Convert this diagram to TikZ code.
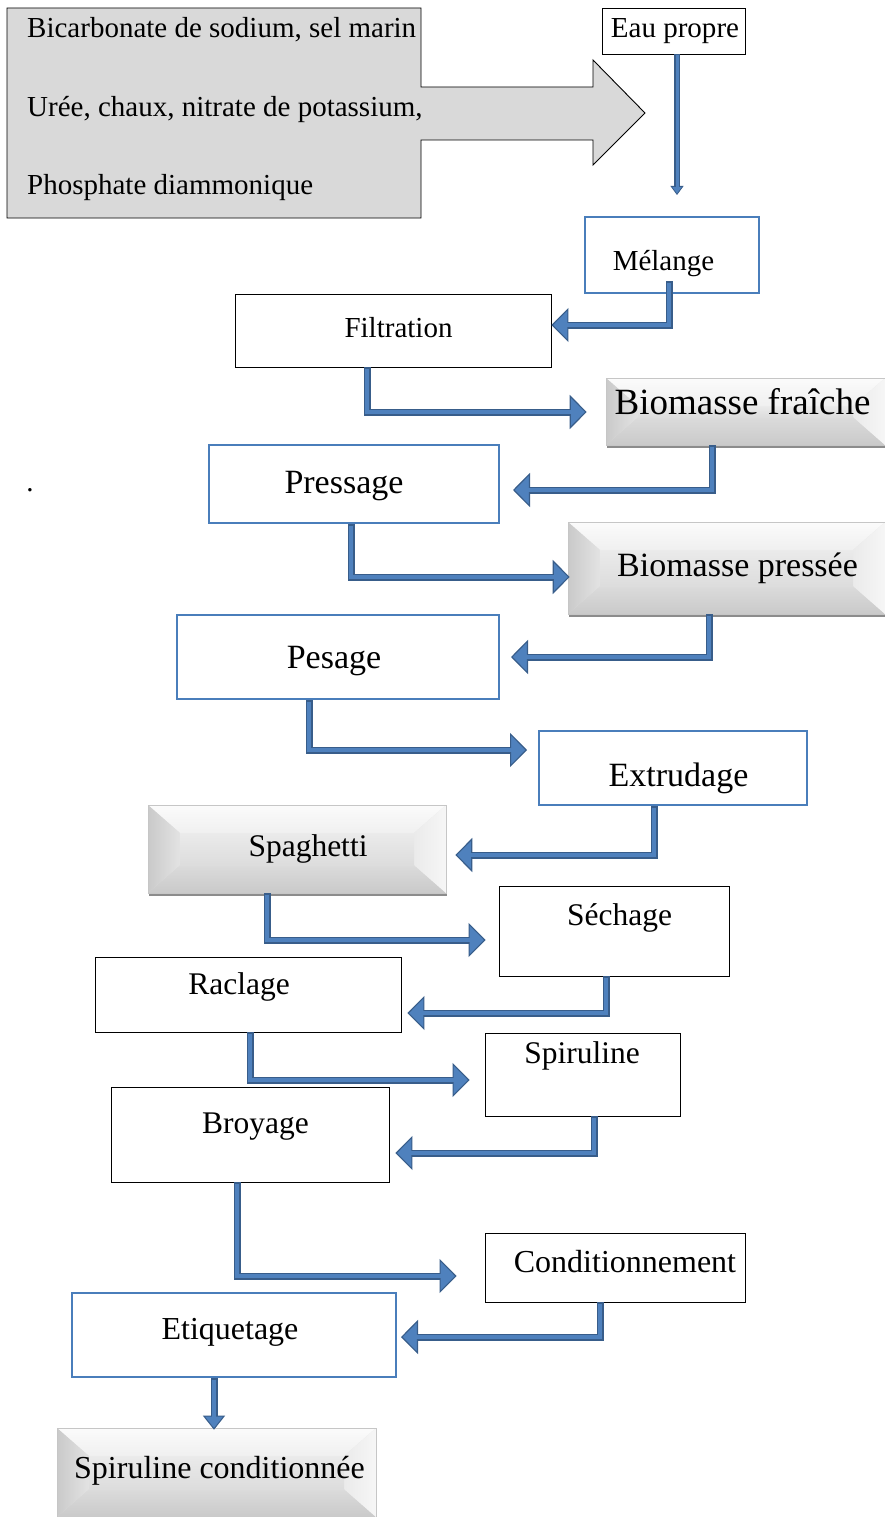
\documentclass[tikz,border=0pt]{standalone}
\usepackage{fontspec}
\setmainfont{Liberation Serif}
\usetikzlibrary{arrows.meta,calc,shadows}
\definecolor{arrlight}{HTML}{4F81BD}
\definecolor{arrdark}{HTML}{385D8A}
\definecolor{boxblue}{HTML}{4A7EBB}
\definecolor{ingr}{HTML}{D9D9D9}
\newcommand\fs[1]{\fontsize{#1}{#1}\selectfont}
\tikzset{
  blackbox/.style={rectangle, draw=black, line width=0.9pt, fill=white, inner sep=0pt},
  bluebox/.style={rectangle, draw=boxblue, line width=2pt, fill=white, inner sep=0pt},
  bevelbox/.style={rectangle, inner sep=0pt, fill=gray!22, draw=gray!45, line width=0.6pt,
    drop shadow={shadow xshift=1pt, shadow yshift=-3pt, opacity=0.45, fill=black},
    path picture={
      \coordinate (NW) at (path picture bounding box.north west);
      \coordinate (NE) at (path picture bounding box.north east);
      \coordinate (SE) at (path picture bounding box.south east);
      \coordinate (SW) at (path picture bounding box.south west);
      \coordinate (nw) at ($(NW)+(32,28)$);
      \coordinate (ne) at ($(NE)+(-32,28)$);
      \coordinate (se) at ($(SE)+(-32,-28)$);
      \coordinate (sw) at ($(SW)+(32,-28)$);
      \shade[top color=gray!3, bottom color=gray!12] (NW) -- (NE) -- (ne) -- (nw) -- cycle;
      \shade[top color=gray!28, bottom color=gray!42] (SW) -- (SE) -- (se) -- (sw) -- cycle;
      \shade[left color=gray!42, right color=gray!22] (NW) -- (nw) -- (sw) -- (SW) -- cycle;
      \shade[left color=gray!16, right color=gray!7] (NE) -- (ne) -- (se) -- (SE) -- cycle;
      \shade[top color=gray!16, bottom color=gray!27] (nw) -- (ne) -- (se) -- (sw) -- cycle;
      \draw[white, line width=1.2pt] (SW) -- (NW) -- (NE);
    }},
  lbl/.style={inner sep=0pt, anchor=base},
  arrout/.style={draw=arrdark, line width=7pt, line join=miter,
    -{Triangle[length=17pt,width=34pt,line width=1.1pt,fill=arrlight]}},
  arrin/.style={draw=arrlight, line width=4pt, line join=miter, shorten >=15pt, shorten <=1.5pt},
}
\newcommand\flowconn[2]{\draw[arrout] #1 |- #2; \draw[arrin] #1 |- #2;}
\begin{document}
\begin{tikzpicture}[x=1pt,y=-1pt]
\useasboundingbox[fill=white] (0,0) rectangle (885,1517);

% ingredients block arrow
\draw[fill=ingr, draw=black, line width=0.9pt, line join=miter]
  (7,8) -- (421,8) -- (421,87) -- (593,87) -- (593,60) -- (645,113) -- (593,165)
  -- (593,140) -- (421,140) -- (421,218) -- (7,218) -- cycle;
\node[lbl, anchor=base west] (ing1) at (27,38) {\fs{29}Bicarbonate de sodium, sel marin};
\node[lbl, anchor=base west] (ing2) at (27,117) {\fs{29}Urée, chaux, nitrate de potassium,};
\node[lbl, anchor=base west] (ing3) at (27,194) {\fs{29}Phosphate diammonique};

% boxes
\node[blackbox, minimum width=143pt, minimum height=46pt] (eau) at (673.5,31) {};
\node[bluebox, minimum width=174pt, minimum height=76pt] (mel) at (672,255) {};
\node[blackbox, minimum width=316pt, minimum height=73pt] (fil) at (393,330.5) {};
\node[bevelbox, minimum width=279pt, minimum height=67pt] (bf) at (745.5,411.5) {};
\node[bluebox, minimum width=290pt, minimum height=78pt] (pre) at (354,484) {};
\node[bevelbox, minimum width=317pt, minimum height=92pt] (bp) at (726.5,568) {};
\node[bluebox, minimum width=322pt, minimum height=84pt] (pes) at (338,657) {};
\node[bluebox, minimum width=268pt, minimum height=74pt] (ext) at (673,768) {};
\node[bevelbox, minimum width=298pt, minimum height=88pt] (spa) at (297,849) {};
\node[blackbox, minimum width=230pt, minimum height=90pt] (sec) at (614,931) {};
\node[blackbox, minimum width=306pt, minimum height=75pt] (rac) at (248,994.5) {};
\node[blackbox, minimum width=195pt, minimum height=83pt] (spi) at (582.5,1074.5) {};
\node[blackbox, minimum width=278pt, minimum height=95pt] (bro) at (250,1134.5) {};
\node[blackbox, minimum width=260pt, minimum height=69pt] (cond) at (615,1267.5) {};
\node[bluebox, minimum width=324pt, minimum height=84pt] (eti) at (234,1335) {};
\node[bevelbox, minimum width=319pt, minimum height=89pt] (sc) at (216.5,1472.5) {};

% labels
\node[lbl] (teau) at (675,38) {\fs{29}Eau propre};
\node[lbl] (tmel) at (663.5,270) {\fs{29}Mélange};
\node[lbl] (tfil) at (398.5,337) {\fs{29}Filtration};
\node[lbl] (tbf) at (742.5,414) {\fs{37}Biomasse fraîche};
\node[lbl] (tpre) at (344,493) {\fs{34}Pressage};
\node[lbl] (tbp) at (737.5,576) {\fs{34}Biomasse pressée};
\node[lbl] (tpes) at (334,668) {\fs{34}Pesage};
\node[lbl] (text) at (678.5,786) {\fs{34}Extrudage};
\node[lbl] (tspa) at (308,856) {\fs{31.5}Spaghetti};
\node[lbl] (tsec) at (619.5,925) {\fs{31.5}Séchage};
\node[lbl] (trac) at (239,994) {\fs{31.5}Raclage};
\node[lbl] (tspi) at (582,1063) {\fs{31.5}Spiruline};
\node[lbl] (tbro) at (255.5,1133) {\fs{31.5}Broyage};
\node[lbl] (tcond) at (625,1272) {\fs{32}Conditionnement};
\node[lbl] (teti) at (230,1339) {\fs{32}Etiquetage};
\node[lbl] (tsc) at (219.5,1478) {\fs{32}Spiruline conditionnée};
\node[lbl] (dot) at (30,491) {\fs{29}.};

% connectors
\draw[draw=arrdark, line width=5.5pt, -{Triangle[length=9pt,width=13pt,line width=0.8pt,fill=arrlight]}]
  ($(eau.south)+(3.5,0)$) -- ($(mel.north)+(5,-21)$);
\draw[draw=arrlight, line width=3pt, shorten >=8pt, shorten <=1pt]
  ($(eau.south)+(3.5,0)$) -- ($(mel.north)+(5,-21)$);

\flowconn{($(mel.south)+(-3,-13)$)}{($(fil.east)+(0,-5.5)$)}
\flowconn{($(fil.south)+(-26,0)$)}{($(bf.west)+(-19,0.5)$)}
\flowconn{($(bf.south)+(-33.5,0)$)}{($(pre.east)+(13,6)$)}
\flowconn{($(pre.south)+(-3,0)$)}{($(bp.west)+(2,9)$)}
\flowconn{($(bp.south)+(-17.5,0)$)}{($(pes.east)+(11,0)$)}
\flowconn{($(pes.south)+(-29,0)$)}{($(ext.west)+(-11,-18)$)}
\flowconn{($(ext.south)+(-19,0)$)}{($(spa.east)+(9,6)$)}
\flowconn{($(spa.south)+(-30,0)$)}{($(sec.west)+(-13,9)$)}
\flowconn{($(sec.south)+(-8,0)$)}{($(rac.east)+(6,18.5)$)}
\flowconn{($(rac.south)+(2,0)$)}{($(spi.west)+(-15,5.5)$)}
\flowconn{($(spi.south)+(11.5,0)$)}{($(bro.east)+(6,18.5)$)}
\flowconn{($(bro.south)+(-13,0)$)}{($(cond.west)+(-28,8.5)$)}
\flowconn{($(cond.south)+(-15,0)$)}{($(eti.east)+(4,2)$)}

\draw[draw=arrdark, line width=7pt, -{Triangle[length=14pt,width=22pt,line width=1pt,fill=arrlight]}]
  ($(eti.south)+(-20,0)$) -- ($(sc.north)+(-2.5,2)$);
\draw[draw=arrlight, line width=4pt, shorten >=12pt, shorten <=1.5pt]
  ($(eti.south)+(-20,0)$) -- ($(sc.north)+(-2.5,2)$);
\end{tikzpicture}
\end{document}
